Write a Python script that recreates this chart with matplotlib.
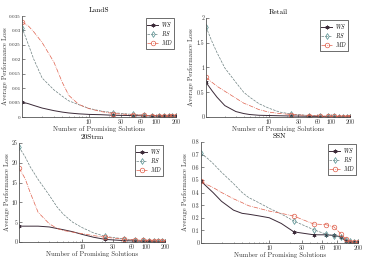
import matplotlib
matplotlib.use("Agg")
import matplotlib.pyplot as plt
from matplotlib.ticker import FixedLocator, FixedFormatter, LogLocator, NullFormatter

plt.rcParams["font.family"] = "serif"
plt.rcParams["font.serif"] = ["cmr10", "DejaVu Serif"]
plt.rcParams["mathtext.fontset"] = "cm"
plt.rcParams["axes.unicode_minus"] = False
plt.rcParams["axes.formatter.use_mathtext"] = True

# number of promising solutions (sampled from the curves)
x = [1, 1.25, 1.5, 2, 3, 4, 5, 7, 10, 15, 23, 45, 67, 89, 111, 133, 155, 177, 199]
mark_idx = [0, 10, 11, 12, 13, 14, 15, 16, 17, 18]

lands_ws = [0.0052, 0.0046, 0.0040, 0.0031, 0.0022, 0.0017, 0.0014, 0.0011, 0.0009, 0.0008,
            0.0006, 0.0005, 0.0004, 0.0004, 0.0003, 0.0003, 0.0002, 0.0002, 0.0002]
lands_rs = [0.031, 0.025, 0.020, 0.0135, 0.0094, 0.0072, 0.0056, 0.0043, 0.0030, 0.0021,
            0.0015, 0.0009, 0.0006, 0.0005, 0.0004, 0.0003, 0.0003, 0.0002, 0.0002]
lands_md = [0.033, 0.0315, 0.0295, 0.0258, 0.019, 0.012, 0.0075, 0.0044, 0.0029, 0.0019,
            0.0012, 0.0008, 0.0006, 0.0005, 0.0004, 0.0003, 0.0003, 0.0002, 0.0002]

retail_ws = [0.70, 0.53, 0.40, 0.23, 0.11, 0.07, 0.05, 0.035, 0.03, 0.025,
             0.02, 0.015, 0.01, 0.01, 0.008, 0.007, 0.006, 0.005, 0.005]
retail_rs = [1.82, 1.52, 1.30, 0.99, 0.70, 0.50, 0.40, 0.27, 0.18, 0.10,
             0.06, 0.03, 0.02, 0.015, 0.012, 0.01, 0.008, 0.006, 0.005]
retail_md = [0.80, 0.70, 0.62, 0.52, 0.38, 0.28, 0.23, 0.15, 0.10, 0.07,
             0.05, 0.03, 0.02, 0.015, 0.012, 0.01, 0.008, 0.006, 0.005]

strm_ws = [4.0, 4.0, 4.0, 4.0, 3.8, 3.4, 3.1, 2.6, 1.9, 1.2,
           0.65, 0.35, 0.25, 0.2, 0.15, 0.1, 0.08, 0.06, 0.05]
strm_rs = [24.0, 21.5, 19.0, 15.8, 11.8, 8.8, 7.0, 5.0, 3.6, 2.3,
           1.4, 0.8, 0.5, 0.4, 0.3, 0.25, 0.2, 0.15, 0.1]
strm_md = [18.7, 16.0, 12.5, 7.5, 4.6, 3.4, 2.9, 2.5, 2.1, 1.6,
           1.2, 0.7, 0.5, 0.4, 0.35, 0.3, 0.2, 0.15, 0.1]

ssn_ws = [0.49, 0.44, 0.40, 0.33, 0.26, 0.235, 0.228, 0.215, 0.20, 0.155,
          0.088, 0.065, 0.065, 0.06, 0.05, 0.015, 0.005, 0.005, 0.005]
ssn_rs = [0.71, 0.67, 0.63, 0.56, 0.47, 0.40, 0.36, 0.32, 0.275, 0.23,
          0.174, 0.105, 0.071, 0.058, 0.045, 0.027, 0.012, 0.006, 0.005]
ssn_md = [0.49, 0.46, 0.44, 0.40, 0.35, 0.32, 0.295, 0.275, 0.253, 0.235,
          0.213, 0.15, 0.146, 0.127, 0.075, 0.03, 0.01, 0.005, 0.005]

xticks = [10, 30, 60, 100, 200]

C_WS = "#3b2a38"
C_RS_LINE = "#6d8080"
C_RS = "#4e8c8c"
C_MD = "#e0604c"

W, H = 365, 258


def px_axes(fig, l, r, t, b):
    return fig.add_axes([l / W, 1 - b / H, (r - l) / W, (b - t) / H])


def panel(ax, title, ws, rs, md, ymax, ystep, ylabels, ylab_x, ysize=4.3):
    ax.plot(x, ws, color=C_WS, lw=0.7, marker=(6, 2, 0), ms=2.8, mew=0.5,
            markevery=mark_idx, label="$WS$")
    ax.plot(x, rs, color=C_RS_LINE, lw=0.5, ls="--", marker="d", ms=3, mew=0.5,
            mec=C_RS, mfc="none", markevery=mark_idx, label="$RS$")
    ax.plot(x, md, color=C_MD, lw=0.5, ls="-.", marker="o", ms=3.3, mew=0.5,
            mec=C_MD, mfc="none", markevery=mark_idx, label="$MD$")
    ax.set_xscale("log")
    ax.set_xlim(1, 200)
    ax.set_ylim(0, ymax)
    ax.xaxis.set_major_locator(FixedLocator(xticks))
    ax.xaxis.set_major_formatter(FixedFormatter([str(t) for t in xticks]))
    ax.xaxis.set_minor_locator(LogLocator(base=10, subs=range(2, 10)))
    ax.xaxis.set_minor_formatter(NullFormatter())
    yt = [i * ystep for i in range(len(ylabels))]
    ax.yaxis.set_major_locator(FixedLocator(yt))
    ax.yaxis.set_major_formatter(FixedFormatter(ylabels))
    for s in ("top", "right"):
        ax.spines[s].set_visible(False)
    for s in ("left", "bottom"):
        ax.spines[s].set_color("#555555")
        ax.spines[s].set_linewidth(0.6)
    ax.tick_params(which="both", direction="in", labelsize=4.3, colors="#555555",
                   labelcolor="#333333", pad=1.5)
    ax.tick_params(axis="y", labelsize=ysize, pad=1)
    ax.tick_params(which="major", length=2, width=0.5)
    ax.tick_params(which="minor", length=1, width=0.4)
    ax.set_title(title, fontsize=5.3, fontweight="bold", pad=3)
    ax.set_xlabel("Number of Promising Solutions", fontsize=4.8, labelpad=1, color="#333333")
    ax.set_ylabel("Average Performance Loss", fontsize=4.8, color="#333333")
    ax.yaxis.set_label_coords(ylab_x, 0.5)
    leg = ax.legend(loc="upper right", fontsize=4, frameon=True, fancybox=False,
                    edgecolor="#333333", framealpha=1, handlelength=2.0,
                    handletextpad=0.4, borderpad=0.25, labelspacing=0.05,
                    borderaxespad=0.4)
    leg.get_frame().set_linewidth(0.5)


fig = plt.figure(figsize=(W / 100, H / 100), dpi=100)

ax1 = px_axes(fig, 22, 176, 16, 117)
panel(ax1, "LandS", lands_ws, lands_rs, lands_md, 0.035, 0.005,
      ["0", "0.005", "0.01", "0.015", "0.02", "0.025", "0.03", "0.035"], -0.092, 3.7)

ax2 = px_axes(fig, 206, 350, 18, 117)
panel(ax2, "Retail", retail_ws, retail_rs, retail_md, 2, 0.5,
      ["0", "0.5", "1", "1.5", "2"], -0.08)

ax3 = px_axes(fig, 19, 165, 143, 242)
panel(ax3, "20Strm", strm_ws, strm_rs, strm_md, 25, 5,
      ["0", "5", "10", "15", "20", "25"], -0.062)

ax4 = px_axes(fig, 201, 358, 142, 243)
panel(ax4, "SSN", ssn_ws, ssn_rs, ssn_md, 0.8, 0.1,
      ["0", "0.1", "0.2", "0.3", "0.4", "0.5", "0.6", "0.7", "0.8"], -0.083)

fig.savefig("out.png", dpi=100)
